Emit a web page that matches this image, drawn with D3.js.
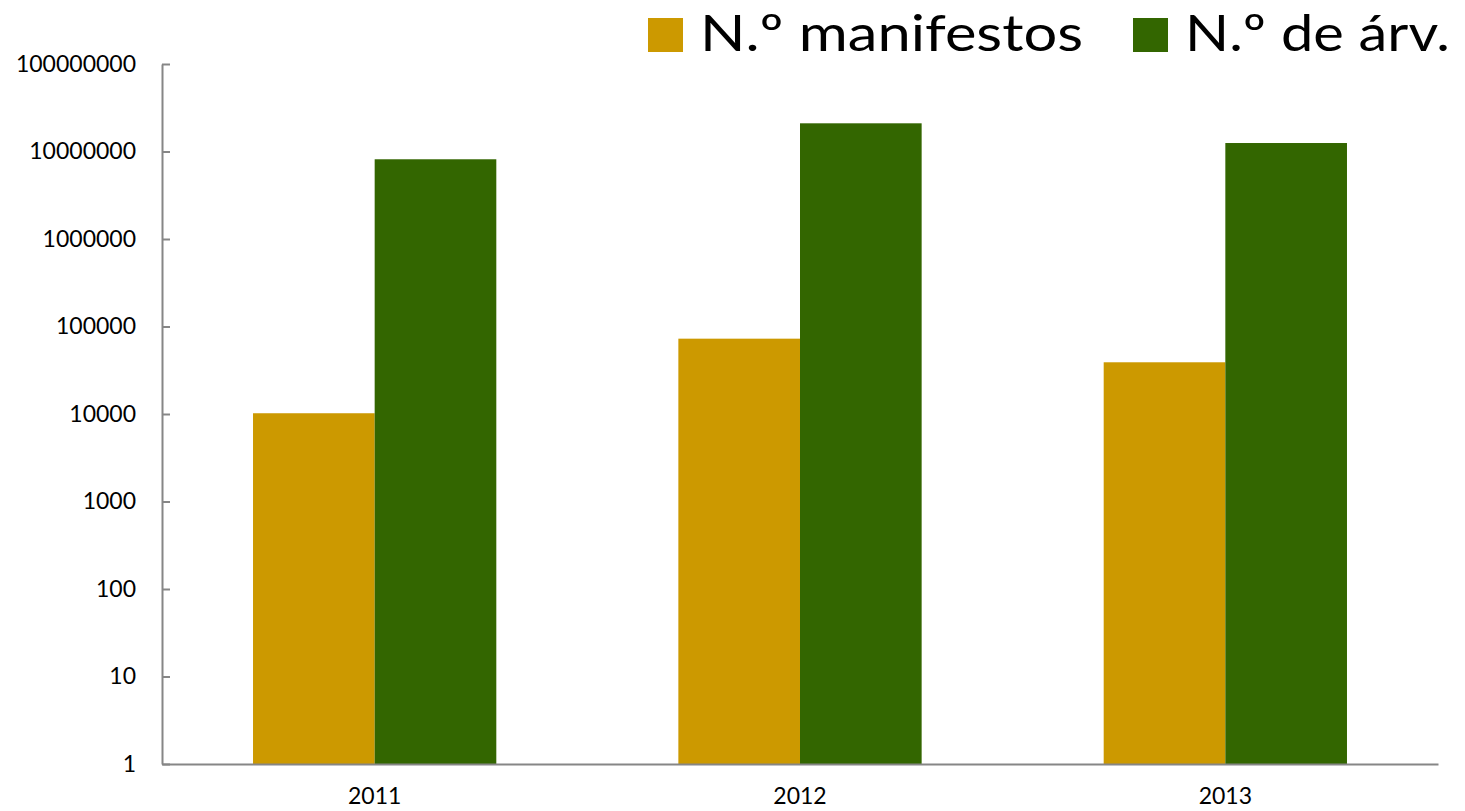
<!DOCTYPE html>
<html>
<head>
<meta charset="utf-8">
<script src="https://cdn.jsdelivr.net/npm/d3@7"></script>
<style>
  html, body { margin: 0; padding: 0; background: #fff; }
  svg { display: block; font-family: Lato, "Liberation Sans", sans-serif; }
</style>
</head>
<body>
<svg id="chart" width="1465" height="811"></svg>
<script>
// Years on the category axis
const years = ["2011", "2012", "2013"];
// Series names shown in the legend
const seriesNames = ["N.º manifestos", "N.º de árv."];
// Number of manifests per year
const manifestos = [10200, 72600, 39000];
// Number of trees per year
const arvores = [8150000, 21000000, 12500000];
// Tick values of the logarithmic value axis
const yTicks = [1, 10, 100, 1000, 10000, 100000, 1000000, 10000000, 100000000];
const colors = ["#CC9900", "#336600"];

const seriesValues = [manifestos, arvores];
const rows = years.map((y, i) => ({ year: y, values: seriesValues.map(s => s[i]) }));

const svg = d3.select("#chart");
const margin = { left: 162, right: 27, top: 64, bottom: 47 };
const W = 1465, H = 811;

const x = d3.scaleBand()
  .domain(years)
  .range([margin.left, W - margin.right])
  .paddingInner(0.428)
  .paddingOuter(0.214);

const xSub = d3.scaleBand()
  .domain(d3.range(seriesNames.length))
  .range([0, x.bandwidth()]);

const y = d3.scaleLog()
  .domain([1, 100000000])
  .range([H - margin.bottom, margin.top]);

// Bars
const groups = svg.append("g").selectAll("g")
  .data(rows)
  .join("g")
  .attr("transform", d => `translate(${x(d.year)},0)`);

groups.selectAll("rect")
  .data(d => d.values.map((v, k) => ({ v, k })))
  .join("rect")
  .attr("x", d => xSub(d.k))
  .attr("width", xSub.bandwidth())
  .attr("y", d => y(d.v))
  .attr("height", d => y(1) - y(d.v))
  .attr("fill", d => colors[d.k]);

// Value axis
const yAxis = svg.append("g")
  .attr("transform", `translate(${margin.left},0)`)
  .call(d3.axisLeft(y)
    .tickValues(yTicks)
    .tickFormat(d3.format("d"))
    .tickSizeInner(-8)
    .tickSizeOuter(0)
    .tickPadding(26));
yAxis.select(".domain").attr("stroke", "#868686").attr("stroke-width", 2);
yAxis.selectAll(".tick line").attr("stroke", "#868686").attr("stroke-width", 2);
yAxis.selectAll(".tick text")
  .attr("font-size", 23)
  .attr("fill", "#000")
  .attr("font-family", "Lato, 'Liberation Sans', sans-serif");

// Category axis
const xAxis = svg.append("g")
  .attr("transform", `translate(0,${y(1)})`)
  .call(d3.axisBottom(x).tickSize(0).tickPadding(24));
xAxis.select(".domain").attr("stroke", "#868686").attr("stroke-width", 2);
xAxis.selectAll(".tick text")
  .attr("font-size", 23)
  .attr("fill", "#000")
  .attr("font-family", "Lato, 'Liberation Sans', sans-serif");

// Legend
const legendItems = [
  { name: seriesNames[0], color: colors[0], x: 648, w: 383 },
  { name: seriesNames[1], color: colors[1], x: 1133, w: 265 }
];
const legend = svg.append("g");
legendItems.forEach(item => {
  legend.append("rect")
    .attr("x", item.x).attr("y", 18)
    .attr("width", 35).attr("height", 34)
    .attr("fill", item.color);
  legend.append("text")
    .attr("x", item.x + 52).attr("y", 51)
    .attr("font-size", 51)
    .attr("fill", "#000")
    .attr("textLength", item.w)
    .attr("lengthAdjust", "spacingAndGlyphs")
    .text(item.name);
});
</script>
</body>
</html>
